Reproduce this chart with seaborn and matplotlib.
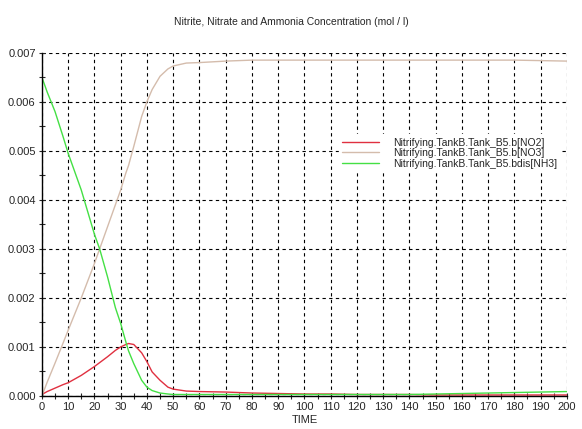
import matplotlib
matplotlib.use("Agg")
import matplotlib.pyplot as plt
import numpy as np
import pandas as pd
import seaborn as sns
from matplotlib.ticker import MultipleLocator

# values
time = [0, 2, 5, 8, 10, 15, 20, 22, 25, 28, 30, 32, 33, 35, 38, 40, 42, 45, 48, 50,
        55, 60, 70, 80, 90, 100, 110, 120, 130, 140, 150, 160, 170, 180, 190, 200]
no2 = [0.00003, 0.00009, 0.00016, 0.00023, 0.00027, 0.00042, 0.0006, 0.00068, 0.0008, 0.00093,
       0.001, 0.00105, 0.00107, 0.00105, 0.00088, 0.0007, 0.00049, 0.00032, 0.00018,
       0.00014, 0.0001, 0.00009, 0.00008, 0.00006, 0.00005, 0.00004, 0.00004, 0.00003,
       0.00003, 0.00003, 0.00002, 0.00002, 0.00002, 0.00002, 0.00002, 0.00002]
no3 = [0.0, 0.00028, 0.00067, 0.00107, 0.00134, 0.002, 0.0027, 0.003, 0.00345, 0.0039,
       0.0042, 0.00455, 0.0047, 0.00509, 0.0057, 0.006, 0.00625, 0.00652, 0.00667,
       0.00673, 0.00679, 0.0068, 0.00683, 0.00685, 0.00685, 0.00685, 0.00685, 0.00685,
       0.00685, 0.00685, 0.00685, 0.00685, 0.00685, 0.00685, 0.00684, 0.00683]
nh3 = [0.0065, 0.0062, 0.0058, 0.0053, 0.00495, 0.0042, 0.0033, 0.003, 0.00243, 0.0018,
       0.00148, 0.0011, 0.00092, 0.00066, 0.00032, 0.00018, 0.00011, 0.00006, 0.00004,
       0.00003, 0.00003, 0.00003, 0.00003, 0.00003, 0.00003, 0.00003, 0.00003, 0.00003,
       0.00003, 0.00003, 0.00004, 0.00005, 0.00006, 0.00007, 0.00008, 0.00009]

labels = [
    "Nitrifying.TankB.Tank_B5.b[NO2]",
    "Nitrifying.TankB.Tank_B5.b[NO3]",
    "Nitrifying.TankB.Tank_B5.bdis[NH3]",
]
colors = ["#e03040", "#d4bcac", "#44e044"]

df = pd.concat(
    [
        pd.DataFrame({"TIME": time, "value": vals, "series": lab})
        for vals, lab in zip([no2, no3, nh3], labels)
    ]
)

sns.set_style("white")
plt.rcParams["font.family"] = ["Liberation Sans", "DejaVu Sans"]

fig = plt.figure(figsize=(5.82, 4.29), dpi=100)
ax = fig.add_axes([0.072, 0.077, 0.902, 0.8])

sns.lineplot(
    data=df,
    x="TIME",
    y="value",
    hue="series",
    palette=dict(zip(labels, colors)),
    linewidth=1.0,
    ax=ax,
)

ax.set_xlim(0, 200)
ax.set_ylim(0, 0.007)
ax.xaxis.set_major_locator(MultipleLocator(10))
ax.xaxis.set_minor_locator(MultipleLocator(5))
ax.yaxis.set_major_locator(MultipleLocator(0.001))
ax.yaxis.set_minor_locator(MultipleLocator(0.0005))
ax.yaxis.set_major_formatter(matplotlib.ticker.FormatStrFormatter("%.3f"))
ax.tick_params(which="both", direction="inout", length=5, width=0.8, labelsize=8,
               left=True, bottom=True, pad=2)
ax.tick_params(which="minor", length=4)
ax.grid(True, which="major", color="black", linestyle=(0, (3, 3)), linewidth=0.8)

for side in ["top", "right"]:
    ax.spines[side].set_visible(False)
for side in ["left", "bottom"]:
    ax.spines[side].set_color("black")
    ax.spines[side].set_linewidth(1.0)

ax.set_xlabel("TIME", fontsize=8, labelpad=2)
ax.set_ylabel("")
fig.suptitle("Nitrite, Nitrate and Ammonia Concentration (mol / l)", fontsize=7.5, y=0.96)

leg = ax.legend(loc="upper left", bbox_to_anchor=(0.565, 0.762), frameon=True,
                fontsize=7.5, handlelength=3.6, handletextpad=1.3, labelspacing=0.05,
                borderpad=0.3, borderaxespad=0)
leg.get_frame().set_edgecolor("white")
leg.get_frame().set_facecolor("white")
leg.get_frame().set_alpha(1)

fig.savefig("out.png", dpi=100)
